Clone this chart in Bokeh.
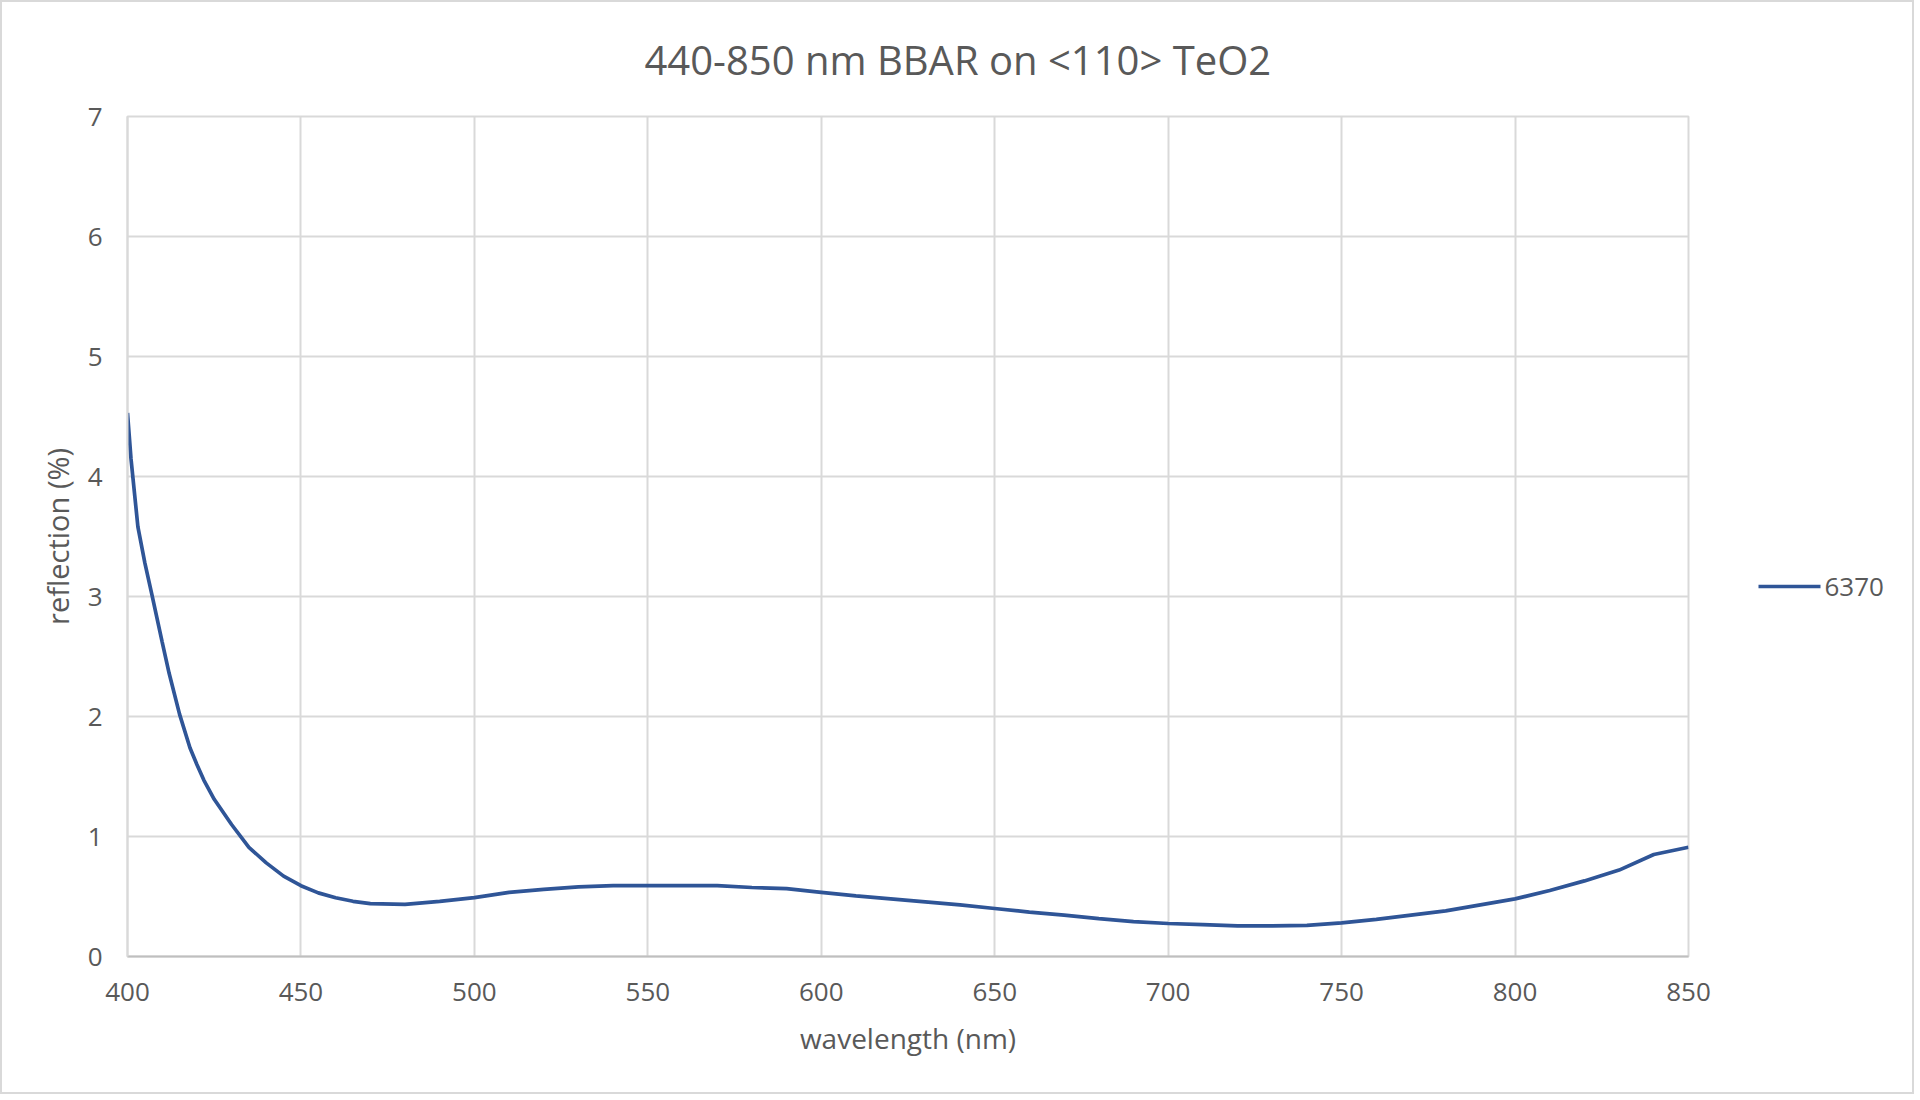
from bokeh.plotting import figure
from bokeh.layouts import row
from bokeh.models import FixedTicker, ColumnDataSource, Range1d
from bokeh.core.properties import value
from bokeh.embed import file_html
from bokeh.resources import INLINE

# reflection curve (nm, %)
wavelength = [400, 401, 403, 405, 407, 410, 412, 415, 418, 420, 422, 425, 430, 435, 440, 445, 450,
              455, 460, 465, 470, 480, 490, 500, 510, 520, 530, 540, 550, 560, 570,
              580, 590, 600, 610, 620, 630, 640, 650, 660, 670, 680, 690, 700, 710,
              720, 730, 740, 750, 760, 770, 780, 790, 800, 810, 820, 830, 840, 850]
reflection = [4.53, 4.15, 3.58, 3.28, 3.02, 2.62, 2.36, 2.02, 1.74, 1.60, 1.47, 1.31, 1.10, 0.91, 0.78, 0.67, 0.59,
              0.53, 0.49, 0.46, 0.44, 0.435, 0.46, 0.49, 0.535, 0.56, 0.58, 0.59, 0.59, 0.59, 0.59,
              0.575, 0.565, 0.535, 0.505, 0.48, 0.455, 0.43, 0.40, 0.37, 0.345, 0.315, 0.29, 0.275, 0.265,
              0.255, 0.255, 0.26, 0.28, 0.31, 0.345, 0.38, 0.43, 0.48, 0.55, 0.63, 0.72, 0.85, 0.91]
series_name = "6370"
x_ticks = [400, 450, 500, 550, 600, 650, 700, 750, 800, 850]
y_ticks = [0, 1, 2, 3, 4, 5, 6, 7]

FONT = "Open Sans"
GREY = "#595959"
GRID = "#d9d9d9"
BLUE = "#2f5597"

src = ColumnDataSource(data={"x": wavelength, "y": reflection})

p = figure(width=1720, height=1090, output_backend="svg", toolbar_location=None,
           x_range=Range1d(400, 850), y_range=Range1d(0, 7),
           title="440-850 nm BBAR on <110> TeO2",
           min_border_left=125, min_border_right=34, min_border_top=114, min_border_bottom=136)

p.title.align = "left"
p.title.offset = 517
p.title.vertical_align = "top"
p.title.standoff = 55
p.title.text_font = FONT
p.title.text_font_size = "40px"
p.title.text_font_style = "normal"
p.title.text_color = GREY

p.background_fill_color = "white"
p.border_fill_color = "white"
p.outline_line_color = GRID
p.outline_line_width = 2

p.line(x="x", y="y", source=src, line_color=BLUE, line_width=3.7)

p.xaxis.ticker = FixedTicker(ticks=x_ticks)
p.yaxis.ticker = FixedTicker(ticks=y_ticks)
p.xgrid.ticker = FixedTicker(ticks=x_ticks)
p.ygrid.ticker = FixedTicker(ticks=y_ticks)
p.grid.grid_line_color = GRID
p.grid.grid_line_width = 2

p.xaxis.axis_label = "wavelength (nm)"
p.yaxis.axis_label = "reflection (%)"
for ax in (p.xaxis, p.yaxis):
    ax.axis_label_text_font = FONT
    ax.axis_label_text_font_size = "28px"
    ax.axis_label_text_font_style = "normal"
    ax.axis_label_text_color = GREY
    ax.major_label_text_font = FONT
    ax.major_label_text_font_size = "26px"
    ax.major_label_text_color = GREY
    ax.major_tick_line_color = None
    ax.minor_tick_line_color = None
    ax.axis_line_color = "#bfbfbf"
    ax.axis_line_width = 2
p.yaxis.axis_label_text_font_size = "29px"
p.yaxis.axis_line_color = GRID
p.xaxis.major_label_standoff = 20
p.xaxis.axis_label_standoff = 15
p.yaxis.major_label_standoff = 19
p.yaxis.axis_label_standoff = 8

# legend key drawn in a narrow side figure (its frame lines up with the main frame,
# 1 unit = 1 px) so it is not clipped by the plot frame
lf = figure(width=190, height=1090, output_backend="svg", toolbar_location=None,
            x_range=Range1d(0, 190), y_range=Range1d(0, 840),
            x_axis_location=None, y_axis_location=None,
            min_border=0, outline_line_color=None)
lf.grid.visible = False
lf.border_fill_color = "white"
key_y = 370
lf.segment(x0=[36], y0=[key_y], x1=[98], y1=[key_y], line_color=BLUE, line_width=3.7)
lf.text(x=[102], y=[key_y], text=[series_name], text_font=value(FONT), text_font_size="26px",
        text_color=GREY, text_baseline="middle", text_align="left")

layout = row(p, lf, styles={"border": "2px solid #d9d9d9", "background-color": "white"})

open("out.html", "w").write(file_html(layout, INLINE))
